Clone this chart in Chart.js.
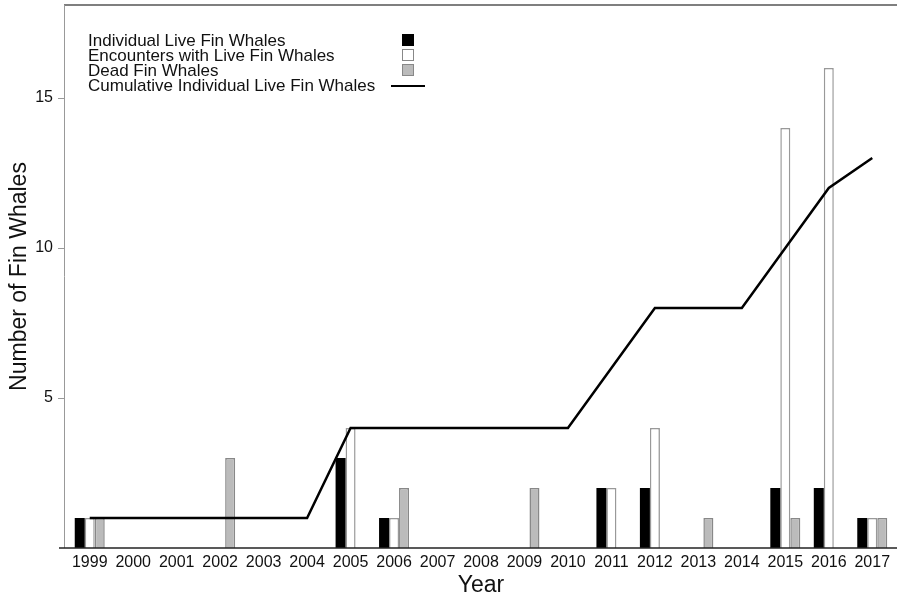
<!DOCTYPE html>
<html>
<head>
<meta charset="utf-8">
<script src="https://cdn.jsdelivr.net/npm/chart.js@4.4.1/dist/chart.umd.min.js"></script>
<style>
  body { margin: 0; background: #fff; }
  #wrap { width: 897px; height: 599px; position: relative; }
</style>
</head>
<body>
<div id="wrap"><canvas id="myChart"></canvas></div>
<script>
const years = ['1999', '2000', '2001', '2002', '2003', '2004', '2005', '2006', '2007', '2008',
    '2009', '2010', '2011', '2012', '2013', '2014', '2015', '2016', '2017'];
const individualLive = [1, 0, 0, 0, 0, 0, 3, 1, 0, 0, 0, 0, 2, 2, 0, 0, 2, 2, 1];
const encountersLive = [1, 0, 0, 0, 0, 0, 4, 1, 0, 0, 0, 0, 2, 4, 0, 0, 14, 16, 1];
const deadWhales = [1, 0, 0, 3, 0, 0, 0, 2, 0, 0, 2, 0, 0, 0, 1, 0, 1, 0, 1];
const cumulativeLive = [1, 1, 1, 1, 1, 1, 4, 4, 4, 4, 4, 4, 6, 8, 8, 8, 10, 12, 13];
const yTicks = [5, 10, 15];

const fontFamily = "'Liberation Sans', Arial, sans-serif";
const legendItems = [
    { label: 'Individual Live Fin Whales', type: 'box', fill: '#000', stroke: '#000' },
    { label: 'Encounters with Live Fin Whales', type: 'box', fill: '#fff', stroke: '#888' },
    { label: 'Dead Fin Whales', type: 'box', fill: '#bbb', stroke: '#888' },
    { label: 'Cumulative Individual Live Fin Whales', type: 'line' }
];

// axis frame, tick marks and the legend box in the upper left
const framePlugin = {
    id: 'frame',
    afterDatasetsDraw(chart) {
        const { ctx, chartArea, scales } = chart;
        ctx.save();
        ctx.lineWidth = 1.5;
        ctx.strokeStyle = '#555';
        ctx.beginPath();
        ctx.moveTo(64, chartArea.top);
        ctx.lineTo(897, chartArea.top);
        ctx.stroke();

        ctx.lineWidth = 1;
        ctx.strokeStyle = '#999';
        ctx.beginPath();
        ctx.moveTo(64.5, chartArea.top);
        ctx.lineTo(64.5, chartArea.bottom);
        yTicks.forEach(v => {
            const y = Math.round(scales.y.getPixelForValue(v)) + 0.5;
            ctx.moveTo(58, y);
            ctx.lineTo(64.5, y);
        });
        ctx.stroke();

        ctx.lineWidth = 1.5;
        ctx.strokeStyle = '#222';
        ctx.beginPath();
        ctx.moveTo(59, chartArea.bottom);
        ctx.lineTo(897, chartArea.bottom);
        ctx.stroke();

        ctx.font = '17px ' + fontFamily;
        ctx.textBaseline = 'alphabetic';
        legendItems.forEach((item, i) => {
            const base = 46 + i * 15;
            ctx.fillStyle = '#111';
            ctx.fillText(item.label, 88, base);
            if (item.type === 'box') {
                ctx.fillStyle = item.fill;
                ctx.fillRect(402, base - 12, 12, 12);
                ctx.lineWidth = 1;
                ctx.strokeStyle = item.stroke;
                ctx.strokeRect(402.5, base - 11.5, 11, 11);
            } else {
                ctx.lineWidth = 2;
                ctx.strokeStyle = '#000';
                ctx.beginPath();
                ctx.moveTo(391, base - 5);
                ctx.lineTo(425, base - 5);
                ctx.stroke();
            }
        });
        ctx.restore();
    }
};

const ctx = document.getElementById('myChart').getContext('2d');
const myChart = new Chart(ctx, {
    data: {
        labels: years,
        datasets: [
            {
                type: 'line',
                label: 'Cumulative Individual Live Fin Whales',
                data: cumulativeLive,
                borderColor: '#000',
                borderWidth: 2.5,
                pointRadius: 0,
                tension: 0,
                order: 0
            },
            {
                type: 'bar',
                label: 'Individual Live Fin Whales',
                data: individualLive,
                backgroundColor: '#000',
                borderColor: '#000',
                borderWidth: 0,
                order: 1
            },
            {
                type: 'bar',
                label: 'Encounters with Live Fin Whales',
                data: encountersLive,
                backgroundColor: '#fff',
                borderColor: '#999',
                borderWidth: 1.5,
                borderSkipped: 'bottom',
                order: 1
            },
            {
                type: 'bar',
                label: 'Dead Fin Whales',
                data: deadWhales,
                backgroundColor: '#bbb',
                borderColor: '#888',
                borderWidth: 1.5,
                borderSkipped: 'bottom',
                order: 1
            }
        ]
    },
    options: {
        responsive: true,
        maintainAspectRatio: false,
        animation: false,
        datasets: {
            bar: { categoryPercentage: 0.69, barPercentage: 1.0 }
        },
        layout: {
            padding: { top: 5, right: 3, left: 0, bottom: 0 }
        },
        plugins: {
            legend: { display: false },
            tooltip: { enabled: false }
        },
        scales: {
            x: {
                grid: { display: false, drawTicks: false },
                border: { display: false },
                ticks: {
                    color: '#111',
                    padding: 5,
                    maxRotation: 0,
                    autoSkip: false,
                    font: { family: fontFamily, size: 16 }
                },
                title: {
                    display: true,
                    text: 'Year',
                    color: '#111',
                    padding: { top: 0, bottom: 0 },
                    font: { family: fontFamily, size: 23 }
                },
                afterFit: scale => {
                    scale.height = 51;
                    scale.paddingLeft = 0;
                    scale.paddingRight = 0;
                }
            },
            y: {
                min: 0,
                max: 18.1,
                grid: { display: false, drawTicks: false },
                border: { display: false },
                afterBuildTicks: scale => { scale.ticks = yTicks.map(v => ({ value: v })); },
                ticks: {
                    color: '#111',
                    padding: 15,
                    font: { family: fontFamily, size: 16 }
                },
                title: {
                    display: true,
                    text: 'Number of Fin Whales',
                    color: '#111',
                    padding: { top: 6, bottom: 0 },
                    font: { family: fontFamily, size: 23 }
                },
                afterFit: scale => {
                    scale.width = 68;
                    scale.paddingTop = 0;
                    scale.paddingBottom = 0;
                }
            }
        }
    },
    plugins: [framePlugin]
});
</script>
</body>
</html>
